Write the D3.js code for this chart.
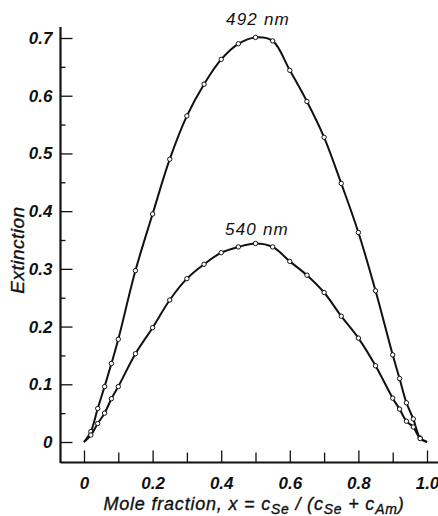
<!DOCTYPE html>
<html lang="en">
	<head>
		<meta charset="UTF-8" />
		<title>Extinction vs mole fraction</title>
		<script src="https://d3js.org/d3.v7.min.js"></script>
		<style>
			body {
				margin: 0;
				background: #fff;
			}
			svg {
				display: block;
				font-family: 'Liberation Sans', Arial, sans-serif;
				font-style: italic;
			}
			.axis text {
				font-size: 17px;
				font-weight: bold;
				fill: #111;
			}
			.axis line {
				stroke: #111;
				stroke-width: 1.3;
			}
			.axis path {
				display: none;
			}
			.title {
				stroke: #111;
				stroke-width: 0.35;
			}
		</style>
	</head>
	<body>
		<svg id="chart" width="438" height="516"></svg>

		<script>
			// measured points, x = mole fraction, values = extinction
			var fractions = [0.02, 0.04, 0.06, 0.08, 0.1, 0.15, 0.2, 0.25, 0.3, 0.35, 0.4, 0.45, 0.5,
				0.55, 0.6, 0.65, 0.7, 0.75, 0.8, 0.85, 0.9, 0.92, 0.94, 0.96, 0.98]
			var ext492 = [0.018, 0.058, 0.096, 0.136, 0.178, 0.297, 0.395, 0.49, 0.565, 0.62, 0.663, 0.69, 0.701,
				0.695, 0.644, 0.59, 0.528, 0.448, 0.363, 0.262, 0.151, 0.11, 0.068, 0.04, 0.007]
			var ext540 = [0.012, 0.032, 0.05, 0.075, 0.096, 0.153, 0.198, 0.246, 0.283, 0.308, 0.328, 0.338, 0.344,
				0.338, 0.313, 0.289, 0.259, 0.218, 0.18, 0.132, 0.076, 0.057, 0.036, 0.026, 0.006]

			var xTicks = [0, 0.2, 0.4, 0.6, 0.8, 1.0]
			var xTickLabels = ['0', '0.2', '0.4', '0.6', '0.8', '1.0']
			var xMinor = [0.1, 0.3, 0.5, 0.7, 0.9]
			var yTicks = [0, 0.1, 0.2, 0.3, 0.4, 0.5, 0.6, 0.7]
			var yTickLabels = ['0', '0.1', '0.2', '0.3', '0.4', '0.5', '0.6', '0.7']
			var yMinor = [0.05, 0.15, 0.25, 0.35, 0.45, 0.55, 0.65]

			var svg = d3.select('#chart')

			var x = d3.scaleLinear().domain([0, 1]).range([84, 427])
			var y = d3.scaleLinear().domain([0, 0.7]).range([442, 38])

			// axis lines run past the tick range
			svg.append('line')
				.attr('x1', 60.5).attr('x2', 60.5)
				.attr('y1', y(0.719)).attr('y2', 463)
				.attr('stroke', '#111').attr('stroke-width', 2.2)
			svg.append('line')
				.attr('x1', 60.5).attr('x2', 438)
				.attr('y1', 462.5).attr('y2', 462.5)
				.attr('stroke', '#111').attr('stroke-width', 2.2)

			// y axis, ticks pointing inwards
			svg.append('g')
				.attr('class', 'axis')
				.attr('transform', 'translate(60.5,0)')
				.call(d3.axisLeft(y).tickValues(yTicks).tickSize(-12).tickPadding(8)
					.tickFormat(function (d, i) { return yTickLabels[i] }))
			svg.append('g')
				.attr('class', 'axis')
				.attr('transform', 'translate(60.5,0)')
				.call(d3.axisLeft(y).tickValues(yMinor).tickSize(-5).tickFormat(''))

			// x axis
			svg.append('g')
				.attr('class', 'axis')
				.attr('transform', 'translate(0,462.5)')
				.call(d3.axisBottom(x).tickValues(xTicks).tickSize(-12).tickPadding(14)
					.tickFormat(function (d, i) { return xTickLabels[i] }))
			svg.append('g')
				.attr('class', 'axis')
				.attr('transform', 'translate(0,462.5)')
				.call(d3.axisBottom(x).tickValues(xMinor).tickSize(-10).tickFormat(''))

			// curves, closed to zero at both ends
			var line = d3.line()
				.x(function (d) { return x(d[0]) })
				.y(function (d) { return y(d[1]) })
				.curve(d3.curveCatmullRom.alpha(0.5))

			var series = [
				{ name: '492 nm', values: ext492, lx: 258, ly: 25 },
				{ name: '540 nm', values: ext540, lx: 257, ly: 235 }
			]

			series.forEach(function (s) {
				var pts = fractions.map(function (f, i) { return [f, s.values[i]] })
				var full = [[0, 0]].concat(pts, [[1, 0]])

				svg.append('path')
					.datum(full)
					.attr('d', line)
					.attr('fill', 'none')
					.attr('stroke', '#111')
					.attr('stroke-width', 2)

				svg.append('g')
					.selectAll('circle')
					.data(pts)
					.enter()
					.append('circle')
					.attr('cx', function (d) { return x(d[0]) })
					.attr('cy', function (d) { return y(d[1]) })
					.attr('r', 2.2)
					.attr('fill', '#fff')
					.attr('stroke', '#111')
					.attr('stroke-width', 1)

				svg.append('text')
					.attr('x', s.lx)
					.attr('y', s.ly)
					.attr('text-anchor', 'middle')
					.attr('font-size', 17)
					.attr('letter-spacing', 1.2)
					.attr('fill', '#111')
					.text(s.name)
			})

			// axis titles
			svg.append('text')
				.attr('class', 'title')
				.attr('transform', 'translate(24,250) rotate(-90)')
				.attr('text-anchor', 'middle')
				.attr('font-size', 19)
				.attr('letter-spacing', 0.5)
				.attr('fill', '#111')
				.text('Extinction')

			var title = svg.append('text')
				.attr('class', 'title')
				.attr('x', 254)
				.attr('y', 510)
				.attr('text-anchor', 'middle')
				.attr('font-size', 18)
				.attr('letter-spacing', 0.8)
				.attr('fill', '#111')
			title.append('tspan').text('Mole fraction,  x = c')
			title.append('tspan').attr('dy', 4).attr('font-size', 14).text('Se')
			title.append('tspan').attr('dy', -4).text(' / (c')
			title.append('tspan').attr('dy', 4).attr('font-size', 14).text('Se')
			title.append('tspan').attr('dy', -4).text(' + c')
			title.append('tspan').attr('dy', 4).attr('font-size', 14).text('Am')
			title.append('tspan').attr('dy', -4).text(')')
		</script>
	</body>
</html>
